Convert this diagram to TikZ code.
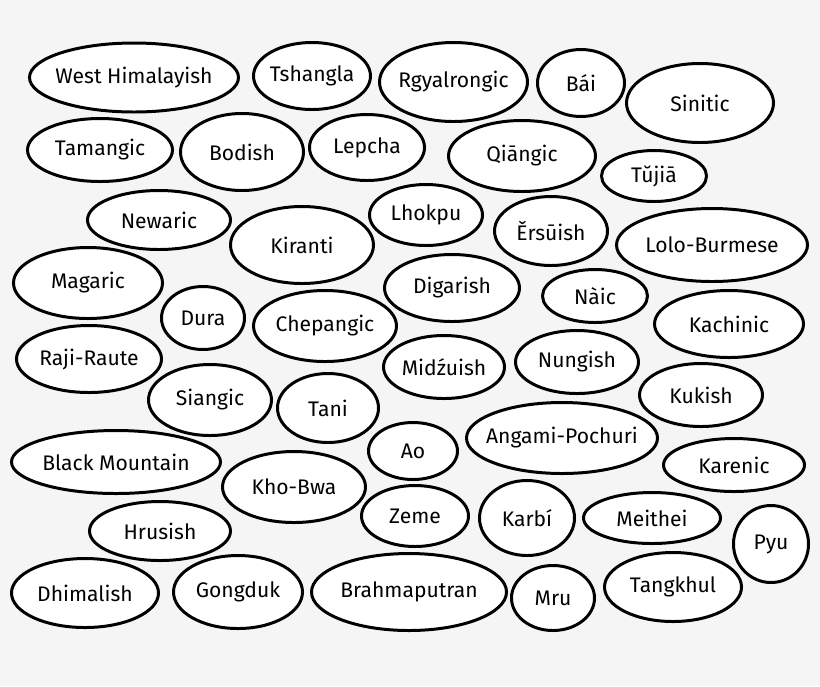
\documentclass[tikz,border=0pt]{standalone}
\usepackage{fontspec}
\setmainfont{Fira Sans}
\usetikzlibrary{shapes.geometric}
\definecolor{bggray}{HTML}{F5F5F5}
\tikzset{
  lang/.style 2 args={ellipse, draw=black, fill=white, line width=1.7pt,
    inner xsep=-15pt, inner ysep=-4pt, minimum width=#1*0.4mm, minimum height=#2*0.4mm,
    font=\fontsize{12}{14}\selectfont},
}

\begin{document}
\begin{tikzpicture}[x=0.2mm, y=-0.2mm]
\fill[bggray] (0,0) rectangle (820,686);
% top rows
\node[lang={104.5}{34.5}] (westhim) at (134,77.5) {West Himalayish};
\node[lang={58.5}{33.5}] (tshangla) at (312,76) {Tshangla};
\node[lang={74}{39.5}] (rgyalrong) at (453.5,82) {Rgyalrongic};
\node[lang={43.5}{33.5}] (bai) at (581,83) {Bái};
\node[lang={73.5}{39.5}] (sinitic) at (700,103) {Sinitic};
\node[lang={72.5}{31.5}] (tamang) at (100,150) {Tamangic};
\node[lang={61.5}{38.5}] (bodish) at (242,152) {Bodish};
\node[lang={57.5}{33}] (lepcha) at (367,147.5) {Lepcha};
\node[lang={73.5}{35.5}] (qiang) at (522,156) {Qiāngic};
\node[lang={52.5}{25.5}] (tujia) at (654,176) {Tŭjiā};
\node[lang={71.5}{29.5}] (newar) at (159,220) {Newaric};
\node[lang={71.5}{38.5}] (kiranti) at (302,245) {Kiranti};
\node[lang={56.5}{30.5}] (lhokpu) at (426,215) {Lhokpu};
\node[lang={56.5}{34.5}] (ersu) at (551,231) {Ěrsūish};
\node[lang={95.5}{36.5}] (loloburm) at (712,245) {Lolo-Burmese};
% middle rows
\node[lang={74.5}{35.5}] (magar) at (88,283) {Magaric};
\node[lang={41.5}{31.5}] (dura) at (203,318) {Dura};
\node[lang={71.5}{35.5}] (chepang) at (325,326) {Chepangic};
\node[lang={67.5}{33.5}] (digar) at (452,288) {Digarish};
\node[lang={52.5}{26.5}] (naic) at (595,296) {Nàic};
\node[lang={74.5}{33.5}] (kachin) at (729,324) {Kachinic};
\node[lang={72.5}{33.5}] (rajiraute) at (89,359) {Raji-Raute};
\node[lang={60.5}{31.5}] (midzu) at (444,367) {Midźuish};
\node[lang={61.5}{31.5}] (nung) at (577,362) {Nungish};
\node[lang={61.5}{35.5}] (siang) at (210,400) {Siangic};
\node[lang={50.5}{34.5}] (tani) at (328,408) {Tani};
\node[lang={61.5}{31.5}] (kuki) at (701,395) {Kukish};
\node[lang={44.5}{28.5}] (ao) at (413,451) {Ao};
\node[lang={95.5}{35.5}] (angami) at (562,438) {Angami-Pochuri};
\node[lang={70.5}{26.5}] (karen) at (734,465) {Karenic};
% bottom rows
\node[lang={104.5}{31.5}] (blackmtn) at (116,462) {Black Mountain};
\node[lang={71.5}{35.5}] (khobwa) at (294,487) {Kho-Bwa};
\node[lang={53.5}{30.5}] (zeme) at (415,516) {Zeme};
\node[lang={47.5}{37.5}] (karbi) at (527,518) {Karbí};
\node[lang={68.5}{25.5}] (meithei) at (652,518) {Meithei};
\node[lang={37.5}{38.5}] (pyu) at (771,544) {Pyu};
\node[lang={70.5}{29.5}] (hrusish) at (160,531) {Hrusish};
\node[lang={73.5}{34.5}] (dhimal) at (85,593) {Dhimalish};
\node[lang={64.5}{36.5}] (gongduk) at (238,592) {Gongduk};
\node[lang={97.5}{38.5}] (brahma) at (409,592) {Brahmaputran};
\node[lang={41.5}{32.5}] (mru) at (553,598) {Mru};
\node[lang={68.5}{34.5}] (tangkhul) at (673,587) {Tangkhul};
\end{tikzpicture}
\end{document}
